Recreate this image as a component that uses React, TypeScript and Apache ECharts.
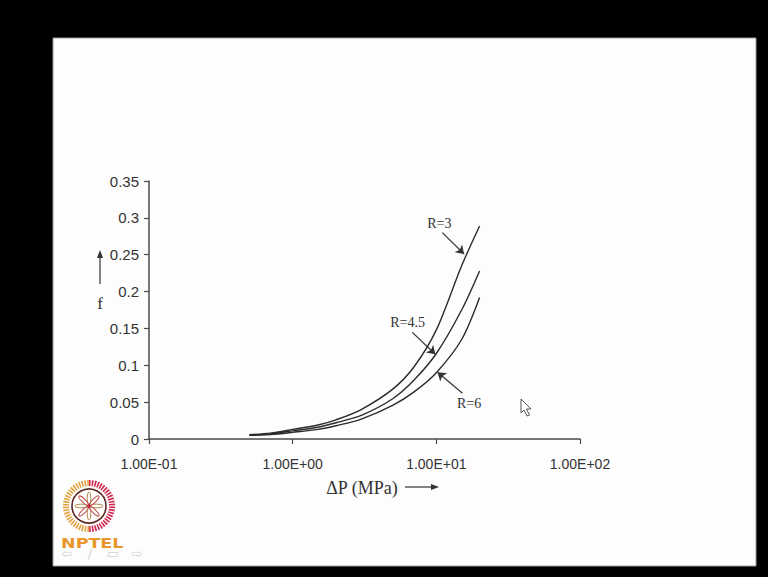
import React, { useEffect, useRef } from "react";
import * as echarts from "echarts";

// ΔP (MPa) sample points
const pressure = [0.5, 0.7, 1, 1.5, 2, 3, 5, 7, 10, 15, 20];
// friction factor f for each R
const fR3 = [0.006, 0.008, 0.013, 0.019, 0.026, 0.04, 0.068, 0.098, 0.148, 0.235, 0.289];
const fR45 = [0.005, 0.007, 0.011, 0.016, 0.022, 0.032, 0.055, 0.08, 0.116, 0.175, 0.228];
const fR6 = [0.005, 0.006, 0.009, 0.013, 0.018, 0.027, 0.046, 0.064, 0.09, 0.135, 0.192];

const seriesNames = ["R=3", "R=4.5", "R=6"];
const seriesValues = [fR3, fR45, fR6];

// annotation label anchors and arrows, in data coordinates [ΔP, f]
const labelAt = [
  [10.5, 0.292],
  [6.3, 0.158],
  [16.9, 0.0486],
];
const arrowFrom = [
  [11.0, 0.28],
  [6.81, 0.1446],
  [15.2, 0.062],
];
const arrowTo = [
  [15.6, 0.251],
  [9.84, 0.115],
  [10.2, 0.0905],
];

const xMin = 0.1;
const xMax = 100;
const yMin = 0;
const yMax = 0.35;
const yStep = 0.05;

function sci(v: number): string {
  const e = Math.round(Math.log10(v));
  const m = v / Math.pow(10, e);
  return m.toFixed(2) + "E" + (e < 0 ? "-" : "+") + String(Math.abs(e)).padStart(2, "0");
}

export default function App() {
  const ref = useRef<HTMLDivElement>(null);

  useEffect(() => {
    if (!ref.current) return;
    const chart = echarts.init(ref.current, null, { renderer: "svg" });
    const axisColor = "#4a4a4a";
    const textColor = "#333";
    const sans = "'Liberation Sans', Arial, sans-serif";
    const serif = "'Liberation Serif', 'Times New Roman', serif";

    const series: any[] = seriesNames.map((name, k) => ({
      name,
      type: "line",
      data: pressure.map((p, i) => [p, seriesValues[k][i]]),
      showSymbol: false,
      smooth: 0.3,
      lineStyle: { color: "#2b2b2b", width: 1.4 },
      markLine: {
        silent: true,
        symbol: ["none", "arrow"],
        symbolSize: 8,
        label: { show: false },
        lineStyle: { color: "#333", width: 1.2, type: "solid" },
        data: [[{ coord: arrowFrom[k] }, { coord: arrowTo[k] }]],
      },
    }));

    const logo: any[] = [];
    const cx = 89;
    const cy = 506;
    logo.push({
      type: "arc",
      shape: { cx, cy, r: 23, startAngle: Math.PI / 2, endAngle: (3 * Math.PI) / 2, clockwise: true },
      style: { stroke: "#e3a23e", lineWidth: 6, fill: "none", lineDash: [1.6, 1.2] },
    });
    logo.push({
      type: "arc",
      shape: { cx, cy, r: 23, startAngle: -Math.PI / 2, endAngle: Math.PI / 2, clockwise: true },
      style: { stroke: "#d1284f", lineWidth: 6, fill: "none", lineDash: [1.6, 1.2] },
    });
    logo.push({
      type: "circle",
      shape: { cx, cy, r: 17 },
      style: { stroke: "#5a2a20", lineWidth: 1.6, fill: "#fff" },
    });
    for (let i = 0; i < 8; i++) {
      logo.push({
        type: "ellipse",
        x: cx,
        y: cy,
        rotation: (i * Math.PI) / 4,
        shape: { cx: 7.5, cy: 0, rx: 6.5, ry: 1.8 },
        style: { stroke: i % 2 ? "#c0504a" : "#b08040", lineWidth: 1, fill: "none" },
      });
    }
    logo.push({
      type: "circle",
      shape: { cx, cy, r: 2 },
      style: { fill: "#c0304a" },
    });
    logo.push({
      type: "text",
      x: 61,
      y: 543,
      scaleX: 1.25,
      style: {
        text: "NPTEL",
        font: "bold 14px 'DejaVu Sans', sans-serif",
        fill: "#e8962c",
        verticalAlign: "middle",
        textAlign: "left",
      },
    });
    const navs = ["⇦", "/", "▭", "⇨"];
    const navX = [67, 90, 113, 137];
    navs.forEach((t, i) =>
      logo.push({
        type: "text",
        x: navX[i],
        y: 553,
        style: {
          text: t,
          font: "13px 'DejaVu Sans', sans-serif",
          fill: "#d4d4d4",
          textAlign: "center",
          verticalAlign: "middle",
        },
      })
    );

    const baseGraphic: any[] = [
      {
        type: "rect",
        shape: { x: 53, y: 38, width: 703, height: 528 },
        style: { fill: "#fefdfe", stroke: "#9a9a9a", lineWidth: 1 },
        z: -10,
      },
      // y-axis title "f" with up arrow
      {
        type: "text",
        x: 100,
        y: 303,
        style: { text: "f", font: `17px ${serif}`, fill: textColor, textAlign: "center", verticalAlign: "middle" },
      },
      {
        type: "line",
        shape: { x1: 100, y1: 284, x2: 100, y2: 256 },
        style: { stroke: "#333", lineWidth: 1.2 },
      },
      {
        type: "polygon",
        shape: { points: [[100, 250], [97, 258], [103, 258]] },
        style: { fill: "#333" },
      },
      // x-axis title with right arrow
      {
        type: "text",
        x: 362,
        y: 488,
        style: { text: "ΔP (MPa)", font: `18px ${serif}`, fill: textColor, textAlign: "center", verticalAlign: "middle" },
      },
      {
        type: "line",
        shape: { x1: 405, y1: 487, x2: 433, y2: 487 },
        style: { stroke: "#333", lineWidth: 1.2 },
      },
      {
        type: "polygon",
        shape: { points: [[439, 487], [431, 484], [431, 490]] },
        style: { fill: "#333" },
      },
      // mouse cursor
      {
        type: "polygon",
        shape: {
          points: [[521, 399], [521, 413], [524, 410], [527, 416], [529.5, 415], [526.5, 409], [531, 409]],
        },
        style: { fill: "#fff", stroke: "#555", lineWidth: 1 },
      },
      ...logo,
    ];

    chart.setOption({
      animation: false,
      backgroundColor: "#000",
      grid: { left: 149, top: 181, width: 431, height: 258, containLabel: false },
      xAxis: {
        type: "log",
        logBase: 10,
        min: xMin,
        max: xMax,
        axisLine: { show: true, onZero: false, lineStyle: { color: axisColor, width: 1.5 } },
        axisTick: { show: true, inside: false, length: 5, lineStyle: { color: axisColor, width: 1.2 } },
        minorTick: { show: false },
        splitLine: { show: false },
        axisLabel: {
          margin: 18,
          color: textColor,
          fontFamily: sans,
          fontSize: 14,
          formatter: (v: number) => sci(v),
        },
      },
      yAxis: {
        type: "value",
        min: yMin,
        max: yMax,
        interval: yStep,
        axisLine: { show: true, lineStyle: { color: axisColor, width: 1.5 } },
        axisTick: { show: true, inside: false, length: 5, lineStyle: { color: axisColor, width: 1.2 } },
        splitLine: { show: false },
        axisLabel: {
          margin: 10,
          color: textColor,
          fontFamily: sans,
          fontSize: 15,
          formatter: (v: number) => String(Math.round(v * 100) / 100),
        },
      },
      series,
      graphic: baseGraphic,
    });

    const labelGraphic = seriesNames.map((name, k) => {
      const pt = chart.convertToPixel({ gridIndex: 0 }, labelAt[k]) as number[];
      return {
        type: "text",
        x: pt[0],
        y: pt[1],
        style: {
          text: name,
          font: `14px ${serif}`,
          fill: textColor,
          textAlign: "center",
          verticalAlign: "middle",
        },
      };
    });
    chart.setOption({ graphic: [...baseGraphic, ...labelGraphic] }, { replaceMerge: ["graphic"] });

    return () => chart.dispose();
  }, []);

  return (
    <div
      ref={ref}
      style={{ position: "absolute", left: 0, top: 0, width: 768, height: 577 }}
    />
  );
}
